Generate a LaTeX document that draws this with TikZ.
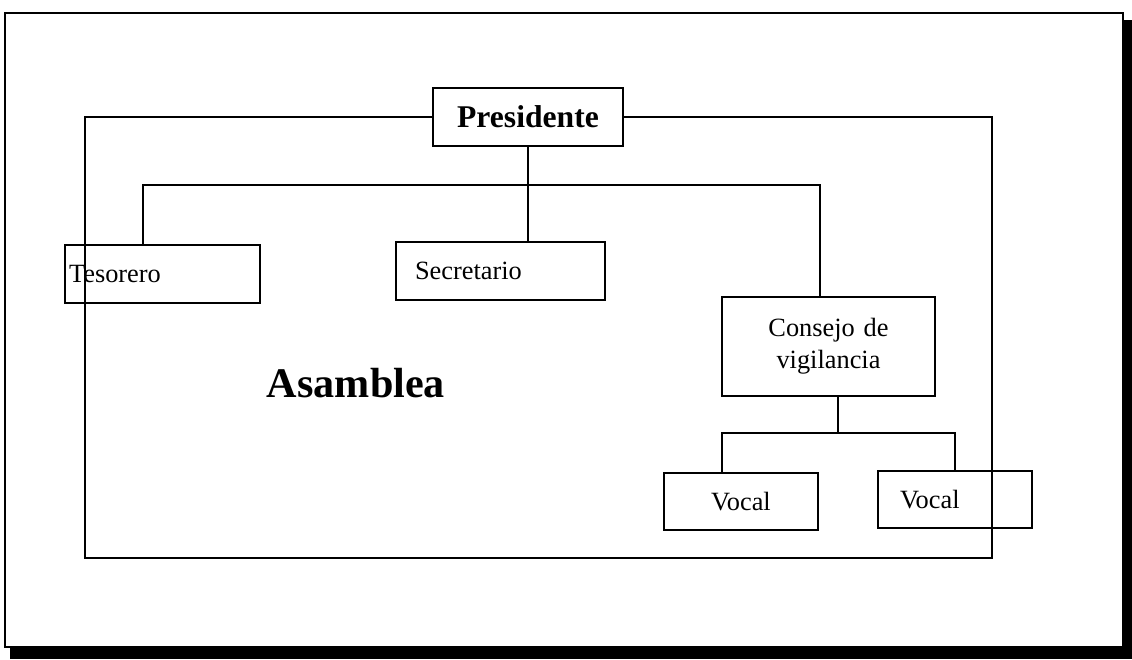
\documentclass[tikz,border=0pt]{standalone}
\usepackage{fontspec}
\setmainfont{Liberation Serif}
\usepackage{tikz}

\tikzset{
  cargo/.style={draw, line width=1pt, inner sep=0pt, font=\fontsize{15}{18}\selectfont},
}

\begin{document}
\begin{tikzpicture}[x=0.02cm, y=-0.02cm, line width=1pt]
                \useasboundingbox (0,0) rectangle (1132,659);

                % hoja con sombra
                \fill[black] (1123,20) rectangle (1132,659);
                \fill[black] (10,647) rectangle (1132,659);
                \draw[line width=1.2pt] (5,13) rectangle (1123,647);

                \node[cargo, minimum width=3.8cm, minimum height=1.16cm,
                      font=\bfseries\fontsize{18}{21}\selectfont] (pres) at (528,117) {Presidente};
                \node[cargo, inner xsep=0.08cm, text width=3.74cm, align=left,
                      minimum height=1.16cm] (teso) at (162.5,274) {Tesorero};
                \node[cargo, inner xsep=0.38cm, text width=3.42cm, align=left,
                      minimum height=1.16cm] (secr) at (500.5,271) {Secretario};
                \node[cargo, text width=4.26cm, align=center,
                      minimum height=1.98cm] (consejo) at (828.5,346.5) {Consejo de\\vigilancia};
                \node[cargo, minimum width=3.08cm, minimum height=1.14cm] (vocala) at (741,501.5) {Vocal};
                \node[cargo, inner xsep=0.44cm, text width=2.2cm, align=left,
                      minimum height=1.14cm] (vocalb) at (955,499.5) {Vocal};

                \node[font=\bfseries\fontsize{24}{28}\selectfont] (asamblea) at (356,383) {Asamblea};

                % marco de la asamblea
                \draw (pres.west) -- (85,117) -- (85,558) -- (992,558) -- (992,117) -- (pres.east);

                % ramas
                \coordinate (ramaT) at (143,185);
                \coordinate (ramaC) at (820,185);
                \coordinate (ramaV) at (838,433);
                \coordinate (ramaVa) at (722,433);
                \draw (pres.south) -- (pres.south |- secr.north);
                \draw (ramaT |- teso.north) -- (ramaT) -- (ramaC) -- (ramaC |- consejo.north);
                \draw (ramaV |- consejo.south) -- (ramaV);
                \draw (ramaVa |- vocala.north) -- (ramaVa) -- (ramaV -| vocalb.north) -- (vocalb.north);
            \end{tikzpicture}
\end{document}
